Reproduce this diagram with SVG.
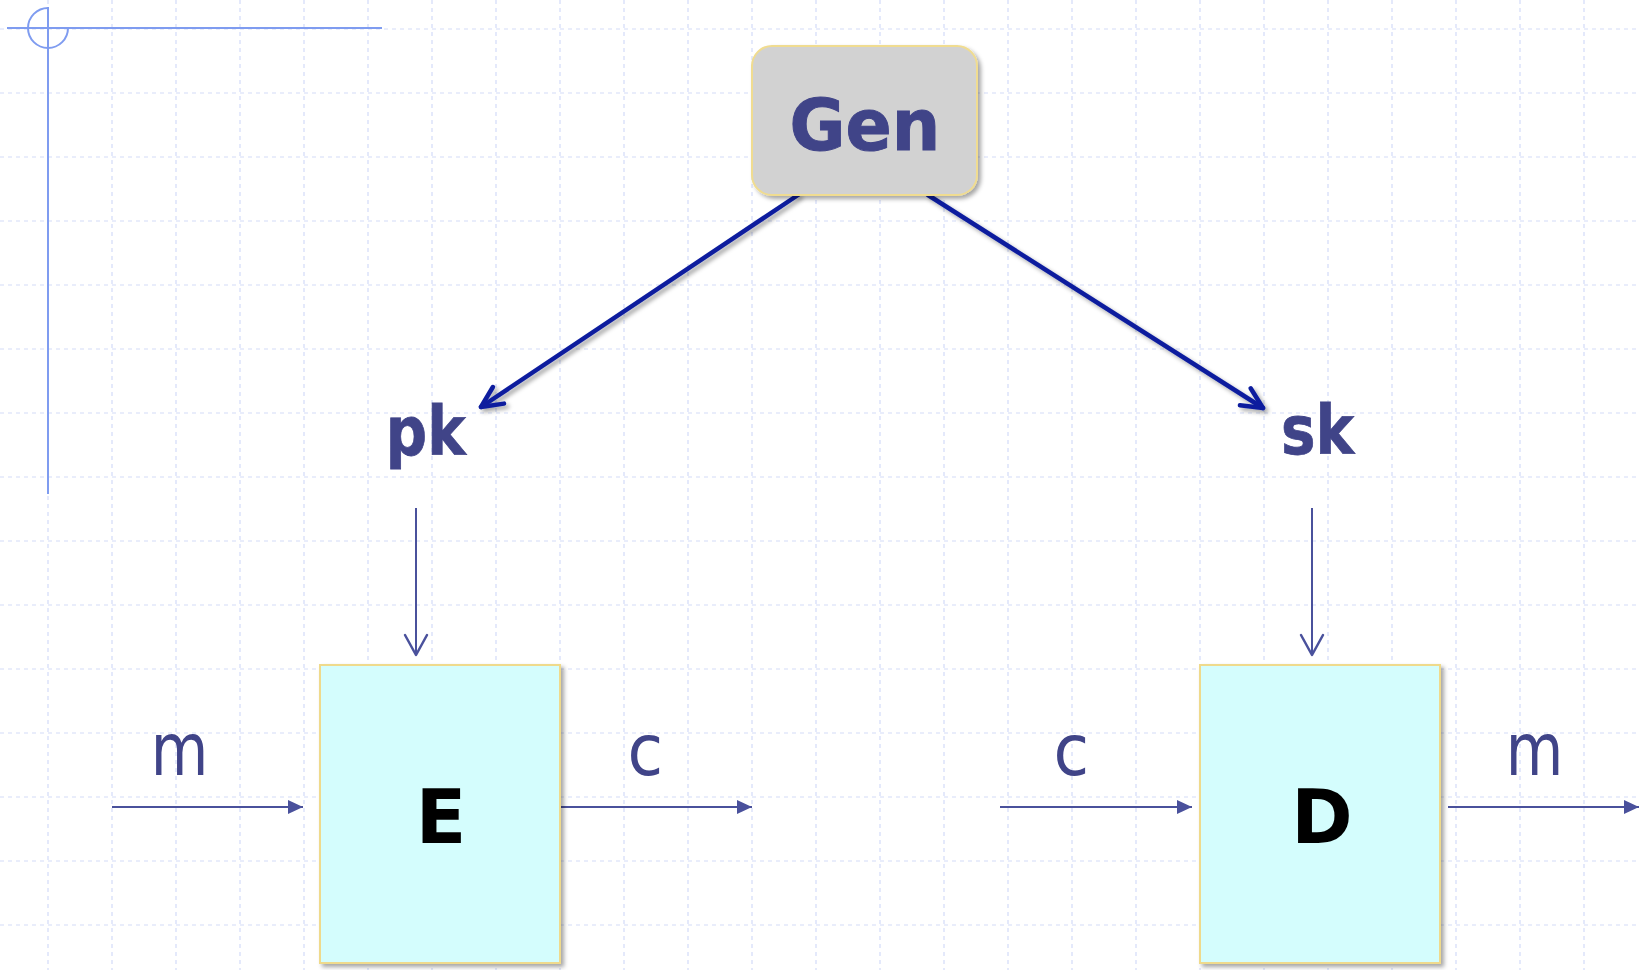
<svg xmlns="http://www.w3.org/2000/svg" width="1639" height="970" viewBox="0 0 1639 970">
<style>
.grid line{stroke:#d3dbf8;stroke-width:1.2;stroke-dasharray:4 4}
.cross{stroke:#7f9cf0;stroke-width:2;fill:none}
.lbl{font-family:"DejaVu Sans",Verdana,sans-serif;fill:#404488}
.bold{font-weight:bold}
.big{stroke:#0a1d9e;stroke-width:4.5;fill:none;stroke-linecap:round}
.thin{stroke:#4a519c;stroke-width:2;fill:none}
.box{fill:#d4fdfd;stroke:#efda8c;stroke-width:2}
</style>
<defs>
<filter id="sh" x="-20%" y="-20%" width="140%" height="140%">
<feDropShadow dx="3" dy="3" stdDeviation="2" flood-color="#000" flood-opacity="0.35"/>
</filter>
<marker id="openBig" markerUnits="userSpaceOnUse" viewBox="-26 -14 30 28" markerWidth="30" markerHeight="28" refX="0" refY="0" orient="auto">
<path d="M-21,-10 L0,0 L-21,10" fill="none" stroke="#0a1d9e" stroke-width="4.5" stroke-linecap="round" stroke-linejoin="round"/>
</marker>
<marker id="openThin" markerUnits="userSpaceOnUse" viewBox="-24 -14 28 28" markerWidth="28" markerHeight="28" refX="0" refY="0" orient="auto">
<path d="M-20,-11 L0,0 L-20,11" fill="none" stroke="#4a519c" stroke-width="2.5" stroke-linecap="round" stroke-linejoin="round"/>
</marker>
<marker id="tri" markerUnits="userSpaceOnUse" viewBox="-16 -8 17 16" markerWidth="17" markerHeight="16" refX="0" refY="0" orient="auto">
<path d="M-15,-7 L0,0 L-15,7 Z" fill="#4a519c"/>
</marker>
</defs>
<rect width="1639" height="970" fill="#ffffff"/>
<g class="grid">
<line x1="48" y1="0" x2="48" y2="970"/><line x1="112" y1="0" x2="112" y2="970"/><line x1="176" y1="0" x2="176" y2="970"/><line x1="240" y1="0" x2="240" y2="970"/><line x1="304" y1="0" x2="304" y2="970"/><line x1="368" y1="0" x2="368" y2="970"/><line x1="432" y1="0" x2="432" y2="970"/><line x1="496" y1="0" x2="496" y2="970"/><line x1="560" y1="0" x2="560" y2="970"/><line x1="624" y1="0" x2="624" y2="970"/><line x1="688" y1="0" x2="688" y2="970"/><line x1="752" y1="0" x2="752" y2="970"/><line x1="816" y1="0" x2="816" y2="970"/><line x1="880" y1="0" x2="880" y2="970"/><line x1="944" y1="0" x2="944" y2="970"/><line x1="1008" y1="0" x2="1008" y2="970"/><line x1="1072" y1="0" x2="1072" y2="970"/><line x1="1136" y1="0" x2="1136" y2="970"/><line x1="1200" y1="0" x2="1200" y2="970"/><line x1="1264" y1="0" x2="1264" y2="970"/><line x1="1328" y1="0" x2="1328" y2="970"/><line x1="1392" y1="0" x2="1392" y2="970"/><line x1="1456" y1="0" x2="1456" y2="970"/><line x1="1520" y1="0" x2="1520" y2="970"/><line x1="1584" y1="0" x2="1584" y2="970"/>
<line x1="0" y1="29" x2="1639" y2="29"/><line x1="0" y1="93" x2="1639" y2="93"/><line x1="0" y1="157" x2="1639" y2="157"/><line x1="0" y1="221" x2="1639" y2="221"/><line x1="0" y1="285" x2="1639" y2="285"/><line x1="0" y1="349" x2="1639" y2="349"/><line x1="0" y1="413" x2="1639" y2="413"/><line x1="0" y1="477" x2="1639" y2="477"/><line x1="0" y1="541" x2="1639" y2="541"/><line x1="0" y1="605" x2="1639" y2="605"/><line x1="0" y1="669" x2="1639" y2="669"/><line x1="0" y1="733" x2="1639" y2="733"/><line x1="0" y1="797" x2="1639" y2="797"/><line x1="0" y1="861" x2="1639" y2="861"/><line x1="0" y1="925" x2="1639" y2="925"/>
</g>
<g id="crosshair">
<line class="cross" x1="7" y1="28" x2="382" y2="28"/>
<line class="cross" x1="48" y1="7" x2="48" y2="494"/>
<path class="cross" d="M48,8 A20,20 0 1 0 68,28"/>
</g>
<g id="connectors">
<line class="big" x1="798" y1="195" x2="481" y2="407" marker-end="url(#openBig)" filter="url(#sh)"/>
<line class="big" x1="928" y1="195" x2="1263" y2="408" marker-end="url(#openBig)" filter="url(#sh)"/>
<line class="thin" x1="416" y1="508" x2="416" y2="655" marker-end="url(#openThin)"/>
<line class="thin" x1="1312" y1="508" x2="1312" y2="655" marker-end="url(#openThin)"/>
<line class="thin" x1="112" y1="807" x2="303" y2="807" marker-end="url(#tri)"/>
<line class="thin" x1="560" y1="807" x2="752" y2="807" marker-end="url(#tri)"/>
<line class="thin" x1="1000" y1="807" x2="1192" y2="807" marker-end="url(#tri)"/>
<line class="thin" x1="1448" y1="807" x2="1639" y2="807" marker-end="url(#tri)"/>
</g>
<g id="gen">
<rect x="752" y="46" width="225" height="149" rx="20" ry="20" fill="#d2d2d2" stroke="#f0dc90" stroke-width="2" filter="url(#sh)"/>
<text class="lbl bold" x="789.6" y="150" font-size="72" textLength="150.6" lengthAdjust="spacingAndGlyphs" stroke="#404488" stroke-width="1">Gen</text>
</g>
<g id="pk">
<text class="lbl bold" x="385.8" y="455" font-size="68" textLength="79.8" lengthAdjust="spacingAndGlyphs" stroke="#404488" stroke-width="0.8">pk</text>
</g>
<g id="sk">
<text class="lbl bold" x="1281" y="454" font-size="68" textLength="73.1" lengthAdjust="spacingAndGlyphs" stroke="#404488" stroke-width="0.8">sk</text>
</g>
<g id="E">
<rect class="box" x="320" y="665" width="240" height="298" filter="url(#sh)"/>
<text x="441" y="843" font-family="DejaVu Sans,Verdana,sans-serif" font-weight="bold" font-size="74" fill="#000" text-anchor="middle">E</text>
</g>
<g id="D">
<rect class="box" x="1200" y="665" width="240" height="298" filter="url(#sh)"/>
<text x="1322" y="843" font-family="DejaVu Sans,Verdana,sans-serif" font-weight="bold" font-size="74" fill="#000" text-anchor="middle">D</text>
</g>
<g id="labels">
<text class="lbl" x="150.7" y="775" font-size="73" textLength="57.6" lengthAdjust="spacingAndGlyphs">m</text>
<text class="lbl" x="627.4" y="775" font-size="72" textLength="35.6" lengthAdjust="spacingAndGlyphs">c</text>
<text class="lbl" x="1053.4" y="775" font-size="72" textLength="35.6" lengthAdjust="spacingAndGlyphs">c</text>
<text class="lbl" x="1505.7" y="775" font-size="73" textLength="57.6" lengthAdjust="spacingAndGlyphs">m</text>
</g>
</svg>
